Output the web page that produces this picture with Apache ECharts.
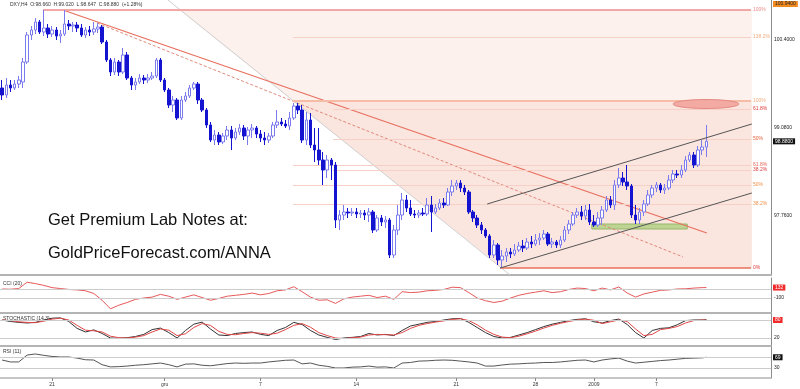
<!DOCTYPE html>
<html><head><meta charset="utf-8">
<script src="https://cdn.jsdelivr.net/npm/echarts@6/dist/echarts.min.js"></script>
<style>html,body{margin:0;padding:0;background:#fff}#c{width:800px;height:389px}</style>
</head><body><div id="c"></div>
<script>
// ---------- DATA ----------
const N = 185; // category slots (candles + right margin)
// [open, close, low, high]
const ohlc = [
[99.68,99.575,99.50,99.80],[99.575,99.725,99.53,99.83],[99.725,99.68,99.62,99.80],[99.68,99.74,99.65,99.80],[99.74,99.80,99.68,99.86],
[99.77,100.07,99.68,100.13],[100.07,100.475,100.04,100.52],[100.475,100.55,100.40,100.61],[100.55,100.67,100.49,100.73],[100.67,100.52,100.49,100.70],
[100.52,100.58,100.46,100.85],[100.58,100.49,100.43,100.64],[100.49,100.55,100.445,100.61],[100.55,100.46,100.40,100.595],[100.46,100.49,100.355,100.55],
[100.49,100.64,100.46,100.85],[100.64,100.61,100.55,100.70],[100.61,100.625,100.52,100.67],[100.625,100.58,100.52,100.67],[100.58,100.475,100.445,100.64],
[100.475,100.55,100.43,100.595],[100.55,100.52,100.46,100.61],[100.52,100.565,100.475,100.67],[100.565,100.595,100.505,100.655],[100.595,100.37,100.34,100.625],
[100.37,100.10,100.07,100.40],[100.10,99.92,99.86,100.13],[99.92,100.07,99.875,100.13],[100.07,99.92,99.86,100.10],[99.92,100.175,99.89,100.28],
[100.175,99.83,99.80,100.22],[99.83,99.725,99.65,99.86],[99.725,99.77,99.65,99.83],[99.77,99.83,99.74,99.89],[99.83,99.80,99.74,99.875],
[99.80,99.83,99.755,99.89],[99.83,99.86,99.80,99.92],[99.86,100.10,99.83,100.13],[100.10,99.80,99.77,100.13],[99.80,99.65,99.62,99.83],
[99.65,99.425,99.38,99.68],[99.425,99.50,99.32,99.56],[99.50,99.23,99.20,99.53],[99.23,99.50,99.20,99.56],[99.50,99.56,99.47,99.62],
[99.56,99.68,99.53,99.725],[99.68,99.74,99.65,99.77],[99.74,99.50,99.44,99.77],[99.50,99.35,99.32,99.53],[99.35,99.125,99.08,99.38],
[99.125,98.90,98.87,99.17],[98.90,98.975,98.825,99.05],[98.975,98.87,98.825,99.02],[98.87,98.96,98.84,99.005],[98.96,99.05,98.90,99.11],
[99.05,98.93,98.75,99.11],[98.93,99.02,98.90,99.08],[99.02,99.08,98.975,99.14],[99.08,98.96,98.90,99.125],[98.96,99.05,98.825,99.095],
[99.05,99.08,98.93,99.14],[99.08,98.99,98.93,99.11],[98.99,98.93,98.87,99.05],[98.93,98.90,98.825,99.02],[98.90,98.96,98.855,99.005],
[98.96,99.125,98.93,99.17],[99.125,99.17,99.08,99.35],[99.17,99.14,99.11,99.23],[99.14,99.11,99.08,99.20],[99.11,99.23,99.05,99.32],
[99.23,99.41,99.20,99.455],[99.41,99.35,99.29,99.455],[99.35,98.90,98.855,99.425],[98.90,99.20,98.825,99.32],[99.20,98.825,98.78,99.305],
[98.825,98.75,98.57,99.08],[98.75,98.60,98.525,99.08],[98.60,98.45,98.225,98.72],[98.45,98.60,98.33,98.675],[98.60,98.525,98.30,98.63],
[98.525,97.70,97.58,98.57],[97.70,97.775,97.55,97.85],[97.775,97.82,97.70,97.925],[97.82,97.805,97.73,97.88],[97.805,97.82,97.76,97.88],
[97.82,97.79,97.73,97.88],[97.79,97.805,97.73,97.85],[97.805,97.775,97.70,97.85],[97.775,97.82,97.67,97.88],[97.82,97.55,97.505,97.85],
[97.55,97.73,97.52,97.775],[97.73,97.67,97.61,97.775],[97.67,97.70,97.58,97.76],[97.70,97.175,97.13,97.73],[97.175,97.55,97.13,97.625],
[97.55,97.775,97.475,97.925],[97.775,98.00,97.70,98.105],[98.00,97.88,97.82,98.075],[97.88,97.79,97.76,98.00],[97.79,97.775,97.73,97.85],
[97.775,97.805,97.73,97.85],[97.805,97.79,97.76,97.88],[97.79,97.925,97.76,98.03],[97.925,97.82,97.52,98.06],[97.82,97.88,97.79,97.94],
[97.88,97.955,97.85,98.015],[97.955,97.925,97.88,98.03],[97.925,98.12,97.91,98.18],[98.12,98.21,98.06,98.30],[98.21,98.255,98.15,98.30],
[98.255,98.18,98.12,98.30],[98.18,98.12,98.075,98.225],[98.12,97.82,97.79,98.15],[97.82,97.73,97.67,97.85],[97.73,97.625,97.58,97.775],
[97.625,97.55,97.49,97.67],[97.55,97.46,97.43,97.58],[97.46,97.175,97.13,97.49],[97.175,97.325,97.13,97.40],[97.325,97.10,97.025,97.355],
[97.10,97.16,96.98,97.25],[97.16,97.22,97.07,97.28],[97.22,97.19,97.13,97.28],[97.19,97.25,97.16,97.34],[97.25,97.31,97.22,97.37],
[97.31,97.28,97.22,97.40],[97.28,97.37,97.25,97.43],[97.37,97.34,97.28,97.46],[97.34,97.40,97.31,97.49],[97.40,97.43,97.325,97.505],
[97.43,97.49,97.40,97.55],[97.49,97.34,97.31,97.52],[97.34,97.37,97.28,97.43],[97.37,97.325,97.28,97.40],[97.325,97.40,97.28,97.46],
[97.40,97.55,97.37,97.61],[97.55,97.64,97.49,97.70],[97.64,97.775,97.61,97.82],[97.775,97.82,97.73,97.88],[97.82,97.76,97.70,97.91],
[97.76,97.85,97.70,97.925],[97.85,97.67,97.625,97.94],[97.67,97.625,97.595,97.775],[97.625,97.73,97.595,97.82],[97.73,97.85,97.625,97.91],
[97.85,98.00,97.82,98.06],[98.00,97.925,97.88,98.06],[97.925,98.225,97.85,98.30],[98.225,98.33,98.18,98.48],[98.33,98.27,98.21,98.42],
[98.27,98.21,98.15,98.525],[98.21,97.775,97.73,98.24],[97.775,97.70,97.64,97.925],[97.70,97.82,97.64,97.88],[97.82,97.94,97.76,98.00],
[97.94,98.075,97.91,98.15],[98.075,98.18,98.03,98.225],[98.18,98.225,98.12,98.27],[98.225,98.15,98.105,98.255],[98.15,98.18,98.09,98.24],
[98.18,98.30,98.15,98.375],[98.30,98.39,98.255,98.45],[98.39,98.375,98.33,98.45],[98.375,98.45,98.33,98.525],[98.45,98.60,98.42,98.66],
[98.60,98.675,98.57,98.72],[98.675,98.525,98.48,98.72],[98.525,98.75,98.495,98.81],[98.75,98.795,98.675,98.90],[98.795,98.88,98.645,99.125]
];
// indicator sample positions (candle index)
const indIdx = [0,2,4,6,8,10,12,14,16,18,20,22,24,26,28,30,32,34,36,38,40,42,44,46,48,50,52,54,56,58,60,62,64,66,68,70,72,74,76,78,80,82,84,86,88,90,92,94,96,98,100,102,104,106,108,110,112,114,116,118,120,122,124,126,128,130,132,134,136,138,140,142,144,146,148,150,152,154,156,158,160,162,164,166,168,169];
const cci = [100,95,110,250,220,180,130,110,90,80,60,0,-150,-340,-260,-200,-130,-100,-80,-20,-60,-130,-80,-30,-90,-150,-110,-60,-40,-20,10,-30,0,60,80,150,40,-80,-150,-140,-220,-120,-80,-60,-40,-90,-60,-130,40,20,30,60,70,90,140,130,20,-100,-160,-200,-170,-100,-40,0,30,60,20,40,90,120,110,60,120,80,145,10,-80,-10,30,70,80,100,105,120,130,132];
const stochK = [80,75,72,70,72,80,86,87,75,52,40,47,35,20,19,21,25,32,48,53,38,20,45,66,73,50,30,28,35,38,40,32,28,45,55,72,65,45,30,22,15,20,22,25,35,30,32,28,45,60,66,72,75,80,84,85,72,55,38,25,20,22,30,38,48,58,66,72,78,82,84,74,70,78,83,65,38,20,45,52,54,64,78,80,80,81];
const stochD = [80,78,74,72,71,76,83,86,80,62,46,44,40,26,21,20,23,28,40,50,46,28,34,55,68,62,42,32,31,35,38,36,32,36,48,62,68,56,38,28,20,18,21,23,30,32,31,30,38,52,62,68,73,77,82,84,78,64,46,32,23,21,26,34,43,53,62,69,75,80,83,79,68,74,80,75,50,28,32,48,52,58,70,78,80,80];
const rsi = [59,52,52,77,81,76,72,70,70,66,60,59,42,34,35,37,40,42,45,48,42,34,44,45,40,38,42,46,48,47,48,48,52,55,58,59,45,48,40,36,30,30,33,34,37,33,34,30,48,50,55,56,58,59,58,55,52,48,37,37,41,44,45,47,48,50,50,52,55,58,59,52,59,63,66,55,48,51,54,57,59,62,65,66,67,69];
// date tick labels (candle index -> text)
const dateIdx = [12,39,62,85,109,128,142,157];
const dateLabels = ['21','gru','7','14','21','28','2009','7'];
// right-axis tick labels
const priceTicks = [100.4, 99.08, 97.76];
// right-axis value boxes: [axis, value, text, background, text colour]
const valueBoxes = [
  [0, 100.94, '100.9400', '#f28a22', '#222'],
  [0, 98.88, '98.8800', '#111', '#fff'],
  [1, 132, '132', '#ee2a2a', '#fff'],
  [2, 80, '80', '#ee2a2a', '#fff'],
  [3, 69, '69', '#111', '#fff']
];
// Fibonacci levels: [startIdx, endIdx, price, label, color]
const fibLevels = [
  [10.3,180.2,100.85,'100%','#ec8a8a'],
  [70.3,180.2,100.445,'138.2%','#f2ad80'],
  [70.3,180.2,99.485,'100%','#f2ad80'],
  [79.9,180.2,99.365,'61.8%','#e23c3c'],
  [79.9,180.2,98.915,'50%','#e8603a'],
  [70.3,180.2,98.525,'61.8%','#e86a5a'],
  [79.9,180.2,98.45,'38.2%','#e23c3c'],
  [70.3,180.2,98.225,'50%','#f0904a'],
  [70.3,180.2,97.94,'38.2%','#f0904a'],
  [120.0,180.2,96.98,'0%','#e23c3c']
];
// trend lines: [[x1,p1],[x2,p2]]
const fanLine = [[40.3,101.0],[122.4,96.875]];
const downTrend = [[15.1,100.85],[169.6,97.505]];
const downTrendDash = [[23.3,100.655],[163.9,97.145]];
const channelLow = [[120.0,96.98],[180.4,98.105]];
const channelHigh = [[116.9,97.94],[180.4,99.14]];
// shaded zones (polygons in data units)
const zoneLight = [[43.0,100.85],[180.4,100.85],[180.4,96.98],[120.5,96.98]];
const zoneMid = [[70.3,99.485],[180.4,99.485],[180.4,96.98],[120.5,96.98]];
const supportBox = [[142.0,97.64],[164.9,97.565]];
const targetEllipse = {cx:169.4, cy:99.44, rx:7.9, ry:0.0675};

// ---------- CHART ----------
const chart = echarts.init(document.getElementById('c'), null, {renderer:'canvas'});
const cats = Array.from({length:N}, (_, i) => String(i));
const FONT = "'Liberation Sans', Arial, sans-serif";

function xy(idxArr, vals){ return idxArr.map((i,k)=>[i+0.5, vals[k]]); }
function lineSeries(pts, color, width, type, z){
  return {type:'line', xAxisIndex:1, yAxisIndex:0, data:pts, showSymbol:false, silent:true,
    lineStyle:{color:color, width:width, type:type||'solid'}, z:z||3, animation:false};
}

const grids = [
  {left:0, right:29, top:0, height:275},
  {left:0, right:29, top:278, height:35},
  {left:0, right:29, top:313, height:33},
  {left:0, right:29, top:346, height:32}
];
const sepLine = {show:true, onZero:false, lineStyle:{color:'#b4b4b4', width:2}};
const xAxes = [
  {type:'category', gridIndex:0, data:cats, boundaryGap:true, axisLabel:{show:false}, axisTick:{show:false}, axisLine:sepLine, splitLine:{show:false}},
  {type:'value', gridIndex:0, min:0, max:N, show:false},
  {type:'value', gridIndex:1, min:0, max:N, axisLabel:{show:false}, axisTick:{show:false}, axisLine:sepLine, splitLine:{show:false}},
  {type:'value', gridIndex:2, min:0, max:N, axisLabel:{show:false}, axisTick:{show:false}, axisLine:sepLine, splitLine:{show:false}},
  {type:'value', gridIndex:3, min:0, max:N, axisLine:{show:true, onZero:false, lineStyle:{color:'#b4b4b4', width:1.5}},
    splitLine:{show:false},
    axisTick:{show:true, customValues:dateIdx.map(i=>i+0.5), length:3, lineStyle:{color:'#888'}},
    axisLabel:{customValues:dateIdx.map(i=>i+0.5), margin:4, fontSize:5, fontFamily:FONT, color:'#333',
      formatter:(v)=>{const k = dateIdx.indexOf(Math.round(v-0.5)); return k>=0 ? dateLabels[k] : '';}}}
];
const rightAxis = (grid, min, max, ticks, fmt) => ({type:'value', gridIndex:grid, position:'right', min:min, max:max,
  axisLine:{show:true, onZero:false, lineStyle:{color:'#8c8c8c', width:1}}, splitLine:{show:false},
  axisTick:{show:false},
  axisLabel:{customValues:ticks, margin:3, fontSize:5, fontFamily:FONT, color:'#222', formatter:fmt}});
const yAxes = [
  rightAxis(0, 96.875, 101.0, priceTicks, v=>v.toFixed(4)),
  rightAxis(1, -433, 344, [-100], v=>String(v)),
  rightAxis(2, -6.7, 103.3, [20], v=>String(v)),
  rightAxis(3, -6.4, 110, [30], v=>String(v))
];

const polys = [zoneLight, zoneMid];
const polyColors = ['#fdf1ee', 'rgba(245,170,150,0.16)'];

const series = [
  {type:'custom', xAxisIndex:1, yAxisIndex:0, silent:true, z:0, animation:false,
    data: polys.map((p,i)=>[i, 99]), encode:{x:0, y:1},
    renderItem:(params, api)=>{
      const P = polys[params.dataIndex];
      return {type:'polygon', shape:{points:P.map(q=>api.coord(q))}, style:{fill:polyColors[params.dataIndex]}};
    }},
  // Fibonacci horizontal levels + labels
  {type:'line', xAxisIndex:1, yAxisIndex:0, data:[], silent:true, z:1, clip:false,
    markLine:{silent:true, symbol:['none','none'], animation:false,
      data: fibLevels.map((f,k)=>[{coord:[f[0],f[2]],
          lineStyle:{color: k===0 ? '#f3a7a7' : (k===9 ? '#e8705a' : (k===2 ? '#f6bca6' : '#f6cfc6')), width: (k===0||k===2) ? 2 : (k===9 ? 1.5 : 1), type:'solid'},
          label:{show:true, position:'end', distance:2, formatter:f[3], color:f[4], fontSize:5, fontFamily:FONT}},
        {coord:[f[1],f[2]]}])}},
  lineSeries(fanLine, '#cfcfcf', 1, 'solid', 2),
  lineSeries(downTrend, '#e8705e', 1.3, 'solid', 3),
  lineSeries(downTrendDash, '#e08a7c', 1, [3,2], 3),
  // candles
  {type:'candlestick', xAxisIndex:0, yAxisIndex:0, data:ohlc, barWidth:3, z:5, animation:false,
    itemStyle:{color:'#ffffff', color0:'#1414d0', borderColor:'#7b7bee', borderColor0:'#1414d0', borderWidth:1}},
  lineSeries(channelLow, '#555555', 1, 'solid', 6),
  lineSeries(channelHigh, '#555555', 1, 'solid', 6),
  // support zone
  {type:'line', xAxisIndex:1, yAxisIndex:0, data:[], silent:true, z:7,
    markArea:{silent:true, animation:false, itemStyle:{color:'rgba(176,208,128,0.8)', borderColor:'#93b86a', borderWidth:1},
      data:[[{coord:supportBox[0]},{coord:supportBox[1]}]]}},
  // target ellipse
  {type:'custom', xAxisIndex:1, yAxisIndex:0, silent:true, z:7, animation:false,
    data:[[targetEllipse.cx, targetEllipse.cy]], encode:{x:0,y:1},
    renderItem:(params, api)=>{
      const e = targetEllipse, pts = [];
      for (let a=0; a<48; a++){ const t = a/48*Math.PI*2; pts.push(api.coord([e.cx + e.rx*Math.cos(t), e.cy + e.ry*Math.sin(t)])); }
      return {type:'polygon', shape:{points:pts}, style:{fill:'#f2aaa2', stroke:'#e48a84', lineWidth:1}};
    }},
  // CCI
  {type:'line', xAxisIndex:2, yAxisIndex:1, data:xy(indIdx, cci), showSymbol:false, silent:true, animation:false,
    lineStyle:{color:'#e8585a', width:1},
    markLine:{silent:true, symbol:['none','none'], animation:false, label:{show:false},
      lineStyle:{color:'#cccccc', width:1, type:'solid'}, data:[{yAxis:100},{yAxis:-100}]}},
  // Stochastic
  {type:'line', xAxisIndex:3, yAxisIndex:2, data:xy(indIdx, stochK), showSymbol:false, silent:true, animation:false,
    lineStyle:{color:'#333333', width:1},
    markLine:{silent:true, symbol:['none','none'], animation:false, label:{show:false},
      lineStyle:{color:'#cccccc', width:1, type:'solid'}, data:[{yAxis:80},{yAxis:20}]}},
  {type:'line', xAxisIndex:3, yAxisIndex:2, data:xy(indIdx, stochD), showSymbol:false, silent:true, animation:false,
    lineStyle:{color:'#e24646', width:1}},
  // RSI
  {type:'line', xAxisIndex:4, yAxisIndex:3, data:xy(indIdx, rsi), showSymbol:false, silent:true, animation:false,
    lineStyle:{color:'#555555', width:1},
    markLine:{silent:true, symbol:['none','none'], animation:false, label:{show:false},
      lineStyle:{color:'#cccccc', width:1, type:'solid'}, data:[{yAxis:70},{yAxis:30}]}}
];

const staticText = [
  {type:'text', left:10, top:2, style:{text:'DXY,H4  O:98.660  H:99.020  L:98.647  C:98.880  (+1.28%)', fontSize:5, fontFamily:FONT, fill:'#333'}},
  {type:'text', left:3, top:281, style:{text:'CCI (20)', fontSize:5, fontFamily:FONT, fill:'#333'}},
  {type:'text', left:3, top:316, style:{text:'STOCHASTIC (14,3)', fontSize:5, fontFamily:FONT, fill:'#333'}},
  {type:'text', left:3, top:349, style:{text:'RSI (11)', fontSize:5, fontFamily:FONT, fill:'#333'}},
  {type:'text', left:48, top:212, z:20, style:{text:'Get Premium Lab Notes at:', fontSize:16.5, fontFamily:FONT, fill:'#111'}},
  {type:'text', left:48, top:245, z:20, style:{text:'GoldPriceForecast.com/ANNA', fontSize:16.5, fontFamily:FONT, fill:'#111'}}
];

chart.setOption({
  animation:false,
  backgroundColor:'#ffffff',
  grid: grids,
  xAxis: xAxes,
  yAxis: yAxes,
  series: series,
  graphic: staticText
});

// value boxes on the right axis, positioned through the axes' own scales
const axisX = chart.convertToPixel({xAxisIndex:1}, N) + 2;
const boxes = valueBoxes.map(b => {
  const y = chart.convertToPixel({yAxisIndex:b[0]}, b[1]);
  return {type:'text', x:axisX, y:y, z:30,
    style:{text:b[2], fontSize:5, fontFamily:FONT, fill:b[4], backgroundColor:b[3], padding:[1,2,0,2],
           verticalAlign:'middle', align:'left'}};
});
chart.setOption({graphic: staticText.concat(boxes)});
</script>
</body></html>
